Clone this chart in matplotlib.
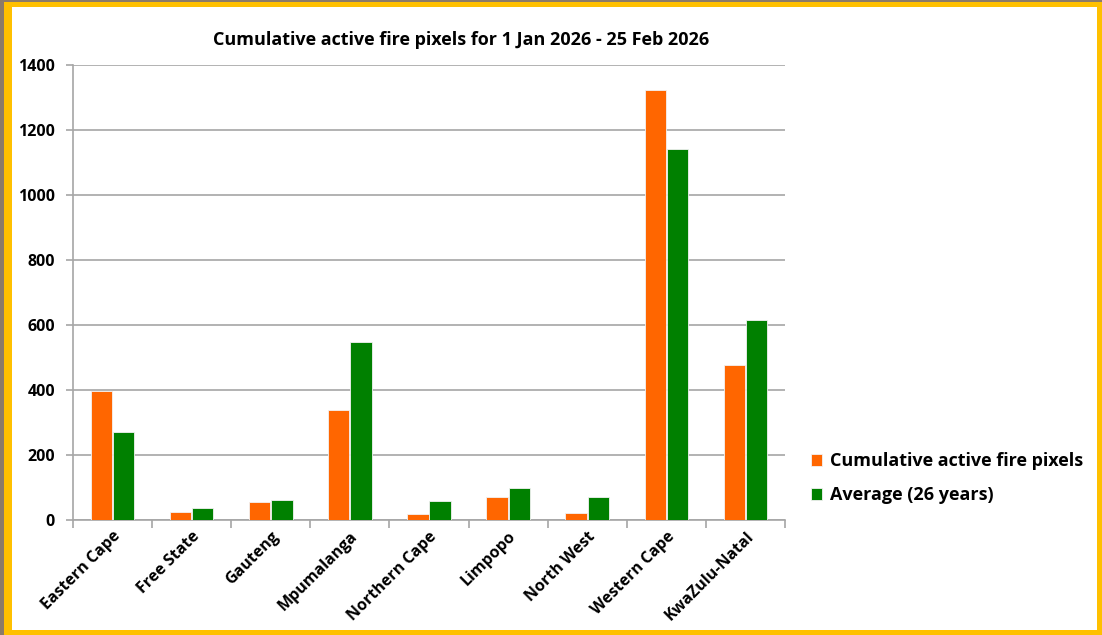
import numpy as np
import matplotlib
matplotlib.use("Agg")
import matplotlib.pyplot as plt
from matplotlib.patches import Rectangle

# -------------- D A T A ---------------------------------------
provinces = ["Eastern Cape", "Free State", "Gauteng", "Mpumalanga",
             "Northern Cape", "Limpopo", "North West", "Western Cape",
             "KwaZulu-Natal"]
cumulative = [397, 24, 56, 337, 19, 72, 21, 1323, 477]
average_26y = [271, 38, 62, 549, 58, 97, 72, 1141, 615]
yticks = [0, 200, 400, 600, 800, 1000, 1200, 1400]

series_names = ["Cumulative active fire pixels", "Average (26 years)"]
title = "Cumulative active fire pixels for 1 Jan 2026 - 25 Feb 2026"

ORANGE = "#FF6600"
GREEN = "#008000"
YELLOW = "#FFC000"
GRID = "#A6A6A6"

plt.rcParams['font.family'] = ['Open Sans', 'DejaVu Sans']

W, H = 1102, 635
fig = plt.figure(figsize=(W / 100, H / 100), dpi=100)
fig.patch.set_facecolor("white")

# frame: textured strip on the left, yellow border
fig.patches.append(Rectangle((0, 0), 1, 1, transform=fig.transFigure,
                             facecolor="#8c7b68", edgecolor="none", zorder=-3))
fig.patches.append(Rectangle((4 / W, 0), 1 - 4 / W, 1 - 2 / H, transform=fig.transFigure,
                             facecolor=YELLOW, edgecolor="none", zorder=-2))
fig.patches.append(Rectangle((12 / W, 5 / H), (1097 - 12) / W, (628 - 5) / H,
                             transform=fig.transFigure,
                             facecolor="white", edgecolor="none", zorder=-1))

# axes placed in pixel coords
ax_l, ax_r, ax_t, ax_b = 73, 785, 65, 520
ax = fig.add_axes([ax_l / W, 1 - ax_b / H, (ax_r - ax_l) / W, (ax_b - ax_t) / H])
ax.set_facecolor("none")

x = np.arange(len(provinces))
bw = 0.27
ax.bar(x - bw / 2 - 0.005, cumulative, width=bw, color=ORANGE,
       edgecolor="#f2f2f2", linewidth=0.6, label=series_names[0], zorder=3)
ax.bar(x + bw / 2 + 0.005, average_26y, width=bw, color=GREEN,
       edgecolor="#f2f2f2", linewidth=0.6, label=series_names[1], zorder=3)

ax.set_xlim(-0.5, len(provinces) - 0.5)
ax.set_ylim(0, 1400)
ax.set_yticks(yticks)
ax.set_yticklabels([str(v) for v in yticks], fontsize=11.5, fontweight="bold")
ax.yaxis.grid(True, color=GRID, linewidth=1.2, zorder=0)
ax.set_axisbelow(True)

for s in ["top", "right"]:
    ax.spines[s].set_visible(False)
ax.spines["left"].set_color(GRID)
ax.spines["bottom"].set_color(GRID)
ax.spines["left"].set_linewidth(1.2)
ax.spines["bottom"].set_linewidth(1.2)
ax.tick_params(axis="y", length=5, color=GRID, width=1.2, pad=8)

# category labels centred, ticks on the boundaries
ax.set_xticks(x)
ax.set_xticklabels(provinces, rotation=45, ha="right", rotation_mode="anchor",
                   fontsize=11.5, fontweight="bold")
ax.tick_params(axis="x", which="major", length=0, pad=6)
ax.set_xticks(np.arange(len(provinces) + 1) - 0.5, minor=True)
ax.tick_params(axis="x", which="minor", length=6, color=GRID, width=1.2)

fig.text(461 / W, 1 - 40 / H, title, ha="center", va="center",
         fontsize=13, fontweight="bold")

leg = fig.legend(loc="upper left", bbox_to_anchor=(795 / W, 1 - 436 / H),
                 frameon=False, fontsize=13, handlelength=0.6, handleheight=0.6,
                 handletextpad=0.45, labelspacing=0.9)
for t in leg.get_texts():
    t.set_fontweight("bold")

fig.savefig("out.png", dpi=100)
